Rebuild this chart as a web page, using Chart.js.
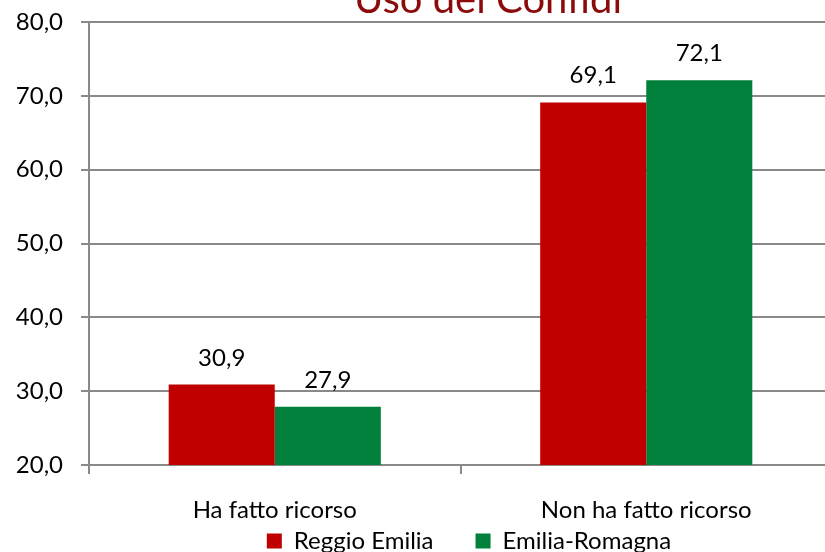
<!DOCTYPE html>
<html>
<head>
<meta charset="utf-8">
<script src="https://cdn.jsdelivr.net/npm/chart.js@4/dist/chart.umd.min.js"></script>
<style>
  html, body { margin: 0; padding: 0; background: #fff; overflow: hidden; }
  #wrap { position: relative; width: 832px; height: 563px; }
</style>
</head>
<body>
<div id="wrap"><canvas id="mycanvas" width="832" height="563"></canvas></div>
<script>
var titolo = 'Uso dei Confidi';
var categorie = ['Ha fatto ricorso', 'Non ha fatto ricorso'];
var reggioEmilia = [30.9, 69.1];
var emiliaRomagna = [27.9, 72.1];
var yTicks = [20, 30, 40, 50, 60, 70, 80];

var grigio = '#898989';
var nero = '#000';
var fontNome = 'Lato, "Open Sans", sans-serif';

function virgola(v) {
    return v.toFixed(1).replace('.', ',');
}

// titolo (tagliato in alto come nell'originale) + piccoli ritocchi al layout
var titlePlugin = {
    id: 'titolo',
    afterLayout: function (chart) {
        // le etichette dell'asse x non devono essere tagliate dalla legenda
        chart.scales.x.bottom = chart.height;
        // legenda spostata a destra come in Excel
        chart.legend.left += 53;
        chart.legend.right += 53;
    },
    afterDraw: function (chart) {
        var ctx = chart.ctx;
        ctx.save();
        ctx.font = '40px ' + fontNome;
        ctx.fillStyle = '#8B0A0A';
        ctx.textAlign = 'center';
        ctx.textBaseline = 'alphabetic';
        ctx.fillText(titolo, 488, 13);
        ctx.restore();
    }
};

// etichette dei valori sopra le barre
var labelPlugin = {
    id: 'etichette',
    afterDatasetsDraw: function (chart) {
        var ctx = chart.ctx;
        ctx.save();
        ctx.font = '24px ' + fontNome;
        ctx.fillStyle = nero;
        ctx.textAlign = 'center';
        ctx.textBaseline = 'alphabetic';
        chart.data.datasets.forEach(function (ds, i) {
            chart.getDatasetMeta(i).data.forEach(function (bar, j) {
                ctx.fillText(virgola(ds.data[j]), bar.x, bar.y - 19);
            });
        });
        ctx.restore();
    }
};

var chartdata = {
    labels: categorie,
    datasets: [{
        label: 'Reggio Emilia',
        backgroundColor: '#C00000',
        data: reggioEmilia
    }, {
        label: 'Emilia-Romagna',
        backgroundColor: '#00803A',
        data: emiliaRomagna
    }]
};

var ctx = document.getElementById('mycanvas');

var barGraph = new Chart(ctx, {
    type: 'bar',
    data: chartdata,
    plugins: [titlePlugin, labelPlugin],
    options: {
        responsive: false,
        animation: false,
        devicePixelRatio: 1,
        layout: { padding: { top: 22, left: 0, right: 0, bottom: 0 } },
        datasets: {
            bar: { categoryPercentage: 0.571, barPercentage: 1.0, borderWidth: 0 }
        },
        scales: {
            x: {
                offset: true,
                grid: { display: true, drawOnChartArea: false, drawTicks: true, tickLength: 9, offset: true, color: grigio, lineWidth: 2 },
                border: { display: true, color: grigio, width: 2 },
                ticks: { color: nero, padding: 22, font: { family: fontNome, size: 24 } },
                afterFit: function (scale) { scale.height = 22; }
            },
            y: {
                min: 20,
                max: 80,
                afterBuildTicks: function (scale) {
                    scale.ticks = yTicks.map(function (v) { return { value: v }; });
                },
                grid: { color: grigio, lineWidth: 2, tickLength: 8 },
                border: { display: true, color: grigio, width: 2 },
                ticks: {
                    color: nero,
                    padding: 18,
                    font: { family: fontNome, size: 24 },
                    callback: function (v) { return virgola(v); }
                },
                afterFit: function (scale) {
                    scale.width = 89;
                    scale.paddingTop = 0;
                }
            }
        },
        plugins: {
            title: { display: false },
            tooltip: { enabled: false },
            legend: {
                display: true,
                position: 'bottom',
                labels: {
                    color: nero,
                    boxWidth: 15,
                    boxHeight: 15,
                    padding: 42,
                    font: { family: fontNome, size: 24 }
                }
            }
        }
    }
});
</script>
</body>
</html>
